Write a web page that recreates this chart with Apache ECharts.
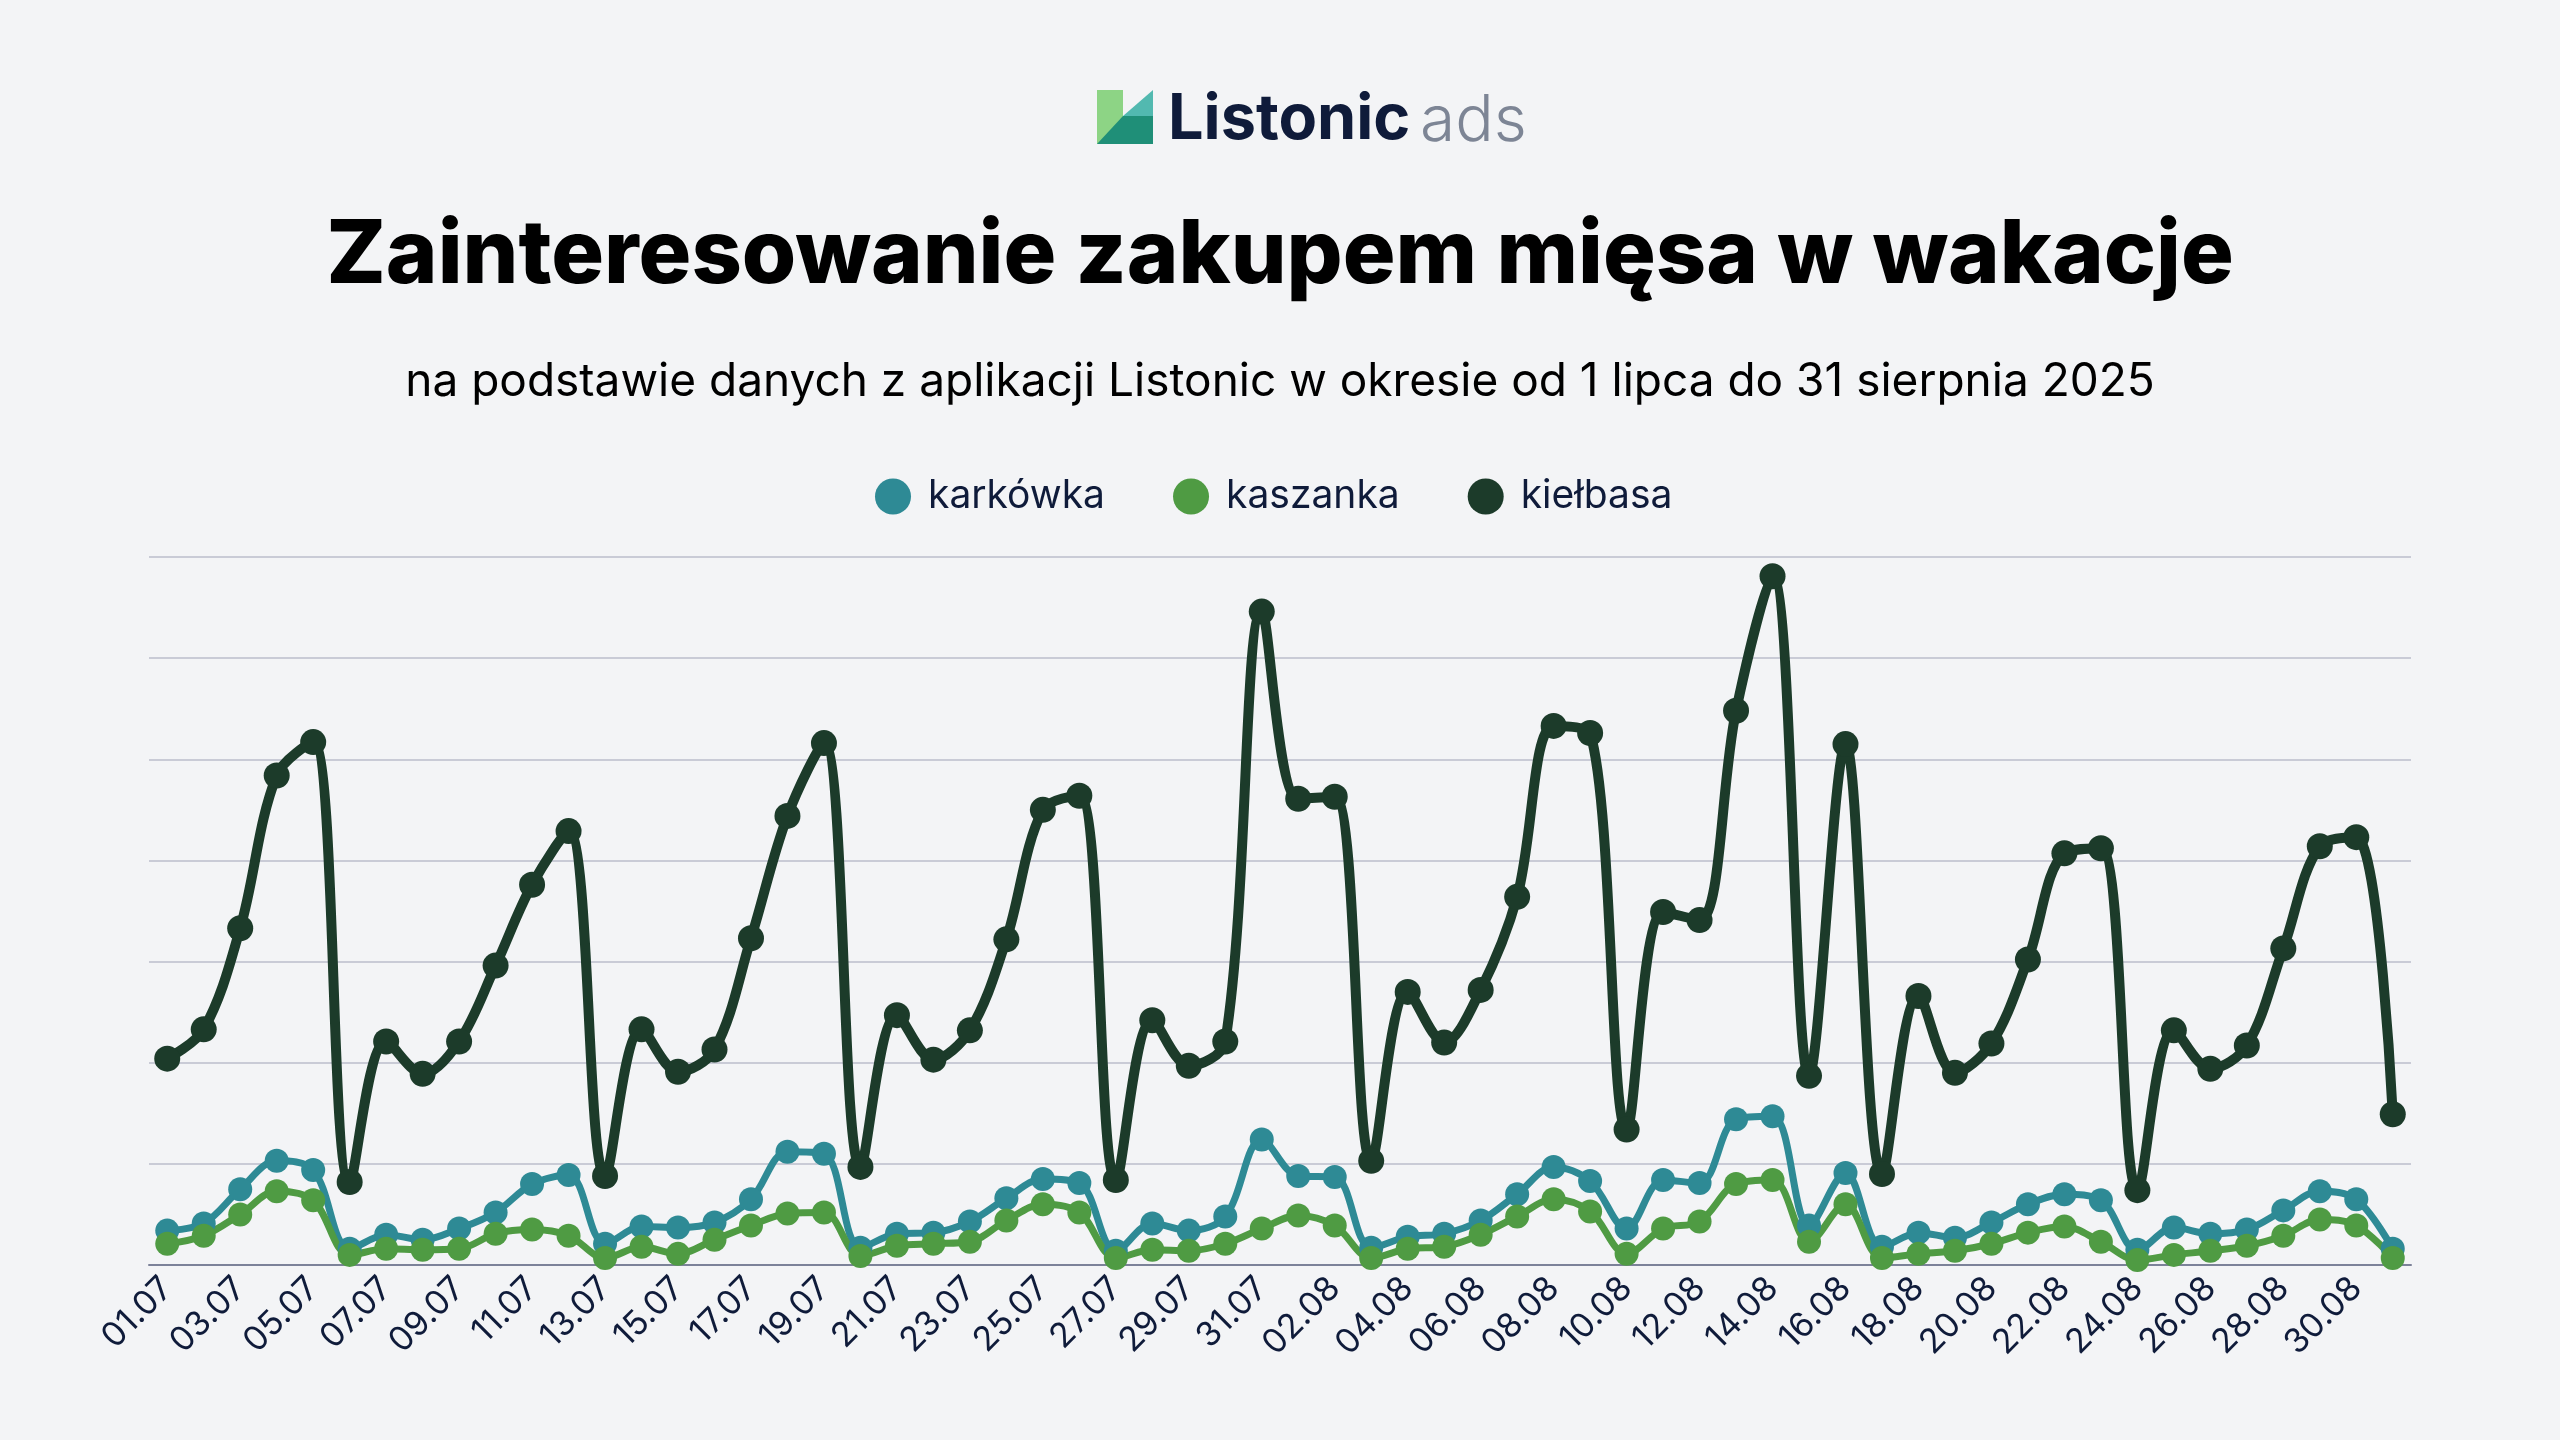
<!DOCTYPE html>
<html>
<head>
<meta charset="utf-8">
<script src="https://cdn.jsdelivr.net/npm/echarts@6/dist/echarts.min.js"></script>
<style>
  html, body { margin: 0; padding: 0; background: #f3f4f6; }
  #main { width: 2560px; height: 1440px; }
</style>
</head>
<body>
<div id="main"></div>
<script>
// dni od 01.07 do 31.08
var days = [];
for (var d = 1; d <= 31; d++) days.push((d < 10 ? '0' + d : '' + d) + '.07');
for (var d = 1; d <= 31; d++) days.push((d < 10 ? '0' + d : '' + d) + '.08');

var karkowka = [34, 41, 75, 103, 94, 16, 30, 25, 36, 52, 80, 89, 21, 38, 37, 42, 65, 112, 110, 17,
  31, 32, 43, 66, 85, 81, 14, 41, 34, 48, 124, 88, 87, 17, 28, 31, 44, 70, 97, 83,
  36, 84, 81, 144, 147, 39, 91, 18, 32, 27, 42, 60, 70, 64, 15, 37, 31, 35, 54, 73, 65, 16];
var kaszanka = [21, 29, 50, 73, 64, 10, 16, 15, 16, 31, 35, 29, 7, 18, 11, 25, 39, 51, 52, 9,
  19, 21, 23, 44, 60, 52, 7, 15, 14, 21, 36, 49, 39, 7, 16, 18, 30, 48, 65, 53,
  11, 36, 43, 80, 84, 23, 60, 7, 11, 14, 21, 32, 38, 23, 5, 10, 14, 19, 29, 45, 39, 7];
var kielbasa = [204, 233, 333, 484, 517, 82, 221, 189, 221, 296, 376, 429, 88, 233, 191, 213, 323, 444, 516, 97,
  247, 203, 232, 322, 450, 464, 84, 242, 197, 221, 646, 461, 463, 103, 270, 220, 272, 364, 533, 526,
  134, 349, 341, 548, 681, 187, 515, 90, 266, 190, 219, 302, 407, 412, 74, 232, 194, 217, 313, 414, 423, 149];

var FONT = 'Inter, "Noto Sans", sans-serif';
var NAVY = '#0f1b3a';

var myChart = echarts.init(document.getElementById('main'));

option = {
    backgroundColor: '#f3f4f6',
    title: [
        {
            text: 'Zainteresowanie zakupem mięsa w wakacje',
            left: 'center',
            top: 208,
            textStyle: { fontFamily: FONT, fontWeight: 800, fontSize: 88, color: '#000000' }
        },
        {
            text: 'na podstawie danych z aplikacji Listonic w okresie od 1 lipca do 31 sierpnia 2025',
            left: 'center',
            top: 354,
            textStyle: { fontFamily: FONT, fontWeight: 400, fontSize: 46, color: '#000000' }
        }
    ],
    graphic: [
        // logo Listonic ads
        { type: 'rect', shape: { x: 1097, y: 90, width: 26, height: 54 }, style: { fill: '#8dd485' } },
        { type: 'polygon', shape: { points: [[1123, 116], [1153, 90], [1153, 116]] }, style: { fill: '#52b9b0' } },
        { type: 'polygon', shape: { points: [[1097, 144], [1123, 116], [1153, 116], [1153, 144]] }, style: { fill: '#1f8f78' } },
        { type: 'text', x: 1168, y: 120, style: { text: 'Listonic', fontFamily: FONT, fontWeight: 700, fontSize: 63, fill: '#0f1b3a', verticalAlign: 'middle' } },
        { type: 'text', x: 1420, y: 122, style: { text: 'ads', fontFamily: FONT, fontWeight: 300, fontSize: 64, fill: '#7d8595', verticalAlign: 'middle' } }
    ],
    legend: {
        top: 472,
        left: 870,
        icon: 'circle',
        itemWidth: 36,
        itemHeight: 36,
        itemGap: 68,
        textStyle: { fontFamily: FONT, fontSize: 39, color: NAVY, padding: [0, 0, 0, 12] },
        data: ['karkówka', 'kaszanka', 'kiełbasa']
    },
    grid: {
        left: 149,
        right: 149,
        top: 557,
        bottom: 175
    },
    xAxis: {
        type: 'category',
        data: days,
        boundaryGap: true,
        axisLine: { lineStyle: { color: '#7c8299', width: 2 } },
        axisTick: { show: false },
        axisLabel: {
            interval: 1,
            rotate: 45,
            fontFamily: FONT,
            fontSize: 34,
            color: NAVY,
            margin: 18
        }
    },
    yAxis: {
        type: 'value',
        min: 0,
        max: 700,
        interval: 100,
        axisLabel: { show: false },
        axisLine: { show: false },
        axisTick: { show: false },
        splitLine: { lineStyle: { color: '#c9cbd6', width: 2 } }
    },
    series: [
        {
            name: 'karkówka',
            type: 'line',
            data: karkowka,
            smooth: 0.35,
            symbol: 'circle',
            symbolSize: 24,
            showAllSymbol: true,
            color: '#2e8a95',
            lineStyle: { width: 7 }
        },
        {
            name: 'kaszanka',
            type: 'line',
            data: kaszanka,
            smooth: 0.35,
            symbol: 'circle',
            symbolSize: 24,
            showAllSymbol: true,
            color: '#4f9b43',
            lineStyle: { width: 7 }
        },
        {
            name: 'kiełbasa',
            type: 'line',
            data: kielbasa,
            smooth: 0.35,
            symbol: 'circle',
            symbolSize: 26,
            showAllSymbol: true,
            color: '#1c3b2a',
            lineStyle: { width: 10 }
        }
    ]
};

myChart.setOption(option);
</script>
</body>
</html>
